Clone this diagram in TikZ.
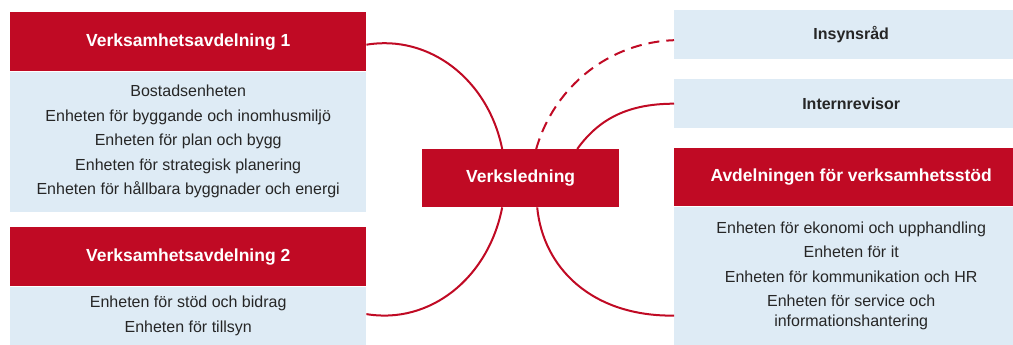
\documentclass[tikz,border=0pt]{standalone}
\usepackage{fontspec}
\setmainfont{Liberation Sans}
\usepackage{tikz}
\usetikzlibrary{positioning}

\definecolor{vred}{HTML}{C00A24}
\definecolor{vblue}{HTML}{DEEBF5}
\definecolor{vtext}{HTML}{262626}

\tikzset{
  headbox/.style={fill=vred, text=white, inner sep=0pt, anchor=north west,
    font=\bfseries\fontsize{17.5}{21}\selectfont},
  bodybox/.style={fill=vblue, text=vtext, inner sep=0pt, align=center,
    font=\fontsize{16}{20}\selectfont},
  sidebox/.style={fill=vblue, text=vtext, inner sep=0pt, anchor=north west,
    minimum width=354pt, minimum height=49pt, font=\bfseries\fontsize{16}{20}\selectfont},
  link/.style={draw=vred, line width=2pt},
  dashlink/.style={link, dash pattern=on 11pt off 7pt},
}

\begin{document}
\begin{tikzpicture}[x=1pt, y=1pt]
              \useasboundingbox (0,0) rectangle (1013,-345);
              \clip (0,0) rectangle (1013,-345);

              % Left side: the two divisions
              \node[headbox, minimum width=356pt, minimum height=59pt] (v1head) at (10,-12) {Verksamhetsavdelning 1};
              \node[bodybox, minimum width=356pt, minimum height=140pt, below=0pt of v1head] (v1body)
                {Bostadsenheten\\[4.5pt] Enheten för byggande och inomhusmiljö\\[4.5pt] Enheten för plan och bygg\\[4.5pt]
                 Enheten för strategisk planering\\[4.5pt] Enheten för hållbara byggnader och energi};

              \node[headbox, minimum width=356pt, minimum height=59pt] (v2head) at (10,-227) {Verksamhetsavdelning 2};
              \node[bodybox, minimum width=356pt, minimum height=59pt, below=0pt of v2head] (v2body)
                {Enheten för stöd och bidrag\\[4.5pt] Enheten för tillsyn};

              % Centre box
              \node[headbox, minimum width=197pt, minimum height=58pt] (ledning) at (422,-149) {Verksledning};

              % Right side
              \node[sidebox] (insyn) at (674,-10) {Insynsråd};
              \node[sidebox] (revisor) at (674,-79) {Internrevisor};
              \node[headbox, minimum width=354pt, minimum height=58pt] (avdhead) at (674,-148) {Avdelningen för verksamhetsstöd};
              \node[bodybox, minimum width=354pt, minimum height=139pt, below=0pt of avdhead] (avdbody)
                {Enheten för ekonomi och upphandling\\[4.5pt] Enheten för it\\[4.5pt] Enheten för kommunikation och HR\\[4.5pt]
                 Enheten för service och\\ informationshantering};

              % Arcs on the left
              \draw[link] ([yshift=-3pt]v1head.east) .. controls +(63,10.5) and +(-14,69.5) .. ([xshift=-18.5pt]ledning.north);
              \draw[link] ([xshift=-18.5pt]ledning.south) .. controls +(-14,-71.5) and +(63,-10.5) .. ([yshift=2pt]v2body.east);

              % Arcs on the right
              \draw[dashlink] ([xshift=15.5pt]ledning.north) .. controls +(18,62.5) and +(-65,-2.3) .. ([yshift=-5.5pt]insyn.west);
              \draw[link] ([xshift=56.5pt]ledning.north) .. controls +(19.8,27.2) and +(-50,0) .. (revisor.west);
              \draw[link] ([xshift=16.5pt]ledning.south) .. controls +(5.8,-60.5) and +(-82,-1) .. ([yshift=-39.5pt]avdbody.west);
        \end{tikzpicture}
\end{document}
